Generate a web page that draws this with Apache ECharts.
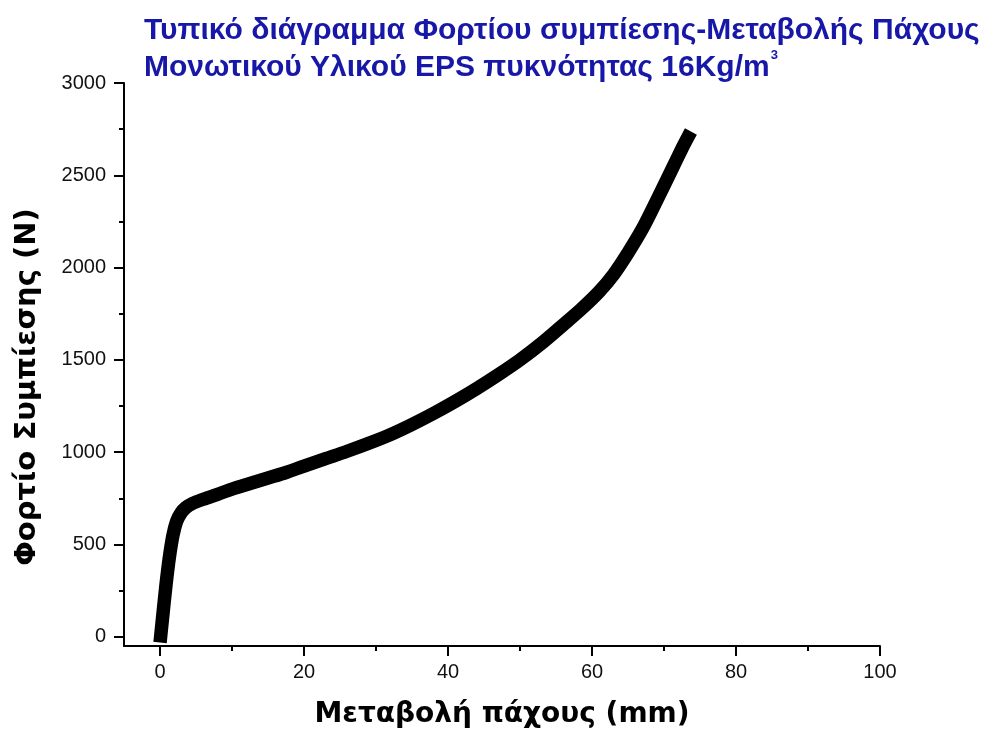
<!DOCTYPE html>
<html>
<head>
<meta charset="utf-8">
<script src="https://cdn.jsdelivr.net/npm/echarts@6/dist/echarts.min.js"></script>
<style>
  html, body { margin: 0; padding: 0; background: #fff; }
  #chart { width: 994px; height: 738px; }
</style>
</head>
<body>
<div id="chart"></div>
<script>
// Compression test: thickness change (mm) vs compressive load (N), EPS 16 kg/m3
const deformation = [0.1, 0.35, 0.8, 1.3, 1.8, 2.3, 2.9, 3.6, 4.5, 6, 8, 10, 12.5, 15, 17.5, 20, 23, 26, 29, 32, 35, 38, 41, 44, 47, 50, 53, 56, 58.5, 61, 63, 65, 67, 69, 71, 72.5, 73.3];
const load = [5, 100, 270, 430, 550, 625, 670, 700, 722, 745, 772, 800, 830, 860, 890, 925, 965, 1005, 1048, 1095, 1150, 1210, 1275, 1345, 1420, 1500, 1590, 1690, 1775, 1870, 1963, 2080, 2210, 2365, 2525, 2645, 2705];

const xMajorTicks = [0, 20, 40, 60, 80, 100];
const xMinorTicks = [10, 30, 50, 70, 90];
const yMajorTicks = [0, 500, 1000, 1500, 2000, 2500, 3000];
const yMinorTicks = [250, 750, 1250, 1750, 2250, 2750];

const titleLine1 = 'Τυπικό διάγραμμα Φορτίου συμπίεσης-Μεταβολής Πάχους';
const titleLine2 = 'Μονωτικού Υλικού EPS πυκνότητας 16Kg/m';
const xName = 'Μεταβολή πάχους (mm)';
const yName = 'Φορτίο Συμπίεσης (N)';

const points = deformation.map((d, i) => [d, load[i]]);

const chart = echarts.init(document.getElementById('chart'), null, { renderer: 'canvas' });

const axisColor = '#000';
const tickFont = { fontFamily: '"Liberation Sans", Arial, sans-serif', fontSize: 20, color: '#111' };
const titleBlue = '#1717a8';
const nameFont = '"DejaVu Sans", sans-serif';

chart.setOption({
  backgroundColor: '#fff',
  animation: false,
  title: {
    left: 139,
    top: 7,
    text: titleLine1 + '\n' + titleLine2 + '{sup|3}',
    textStyle: {
      color: titleBlue,
      fontFamily: '"Liberation Sans", Arial, sans-serif',
      fontWeight: 'bold',
      fontSize: 30,
      lineHeight: 37,
      rich: {
        sup: {
          color: titleBlue,
          fontFamily: '"Liberation Sans", Arial, sans-serif',
          fontSize: 13,
          lineHeight: 37,
          verticalAlign: 'top',
          padding: [0, 0, 16, 1]
        }
      }
    }
  },
  grid: { left: 124, right: 114, top: 83, bottom: 92 },
  xAxis: [
    {
      type: 'value',
      min: -5,
      max: 100,
      name: xName,
      nameLocation: 'middle',
      nameGap: 55,
      nameTextStyle: { fontFamily: nameFont, fontWeight: 'bold', fontSize: 28, color: '#000' },
      axisLine: { show: true, onZero: false, lineStyle: { color: axisColor, width: 2 } },
      axisTick: { show: true, customValues: xMajorTicks, length: 10, lineStyle: { color: axisColor, width: 2 } },
      axisLabel: Object.assign({ customValues: xMajorTicks, margin: 16 }, tickFont),
      splitLine: { show: false }
    },
    {
      type: 'value',
      min: -5,
      max: 100,
      position: 'bottom',
      axisLine: { show: false, onZero: false },
      axisTick: { show: true, customValues: xMinorTicks, length: 5, lineStyle: { color: axisColor, width: 2 } },
      axisLabel: { show: false },
      splitLine: { show: false }
    }
  ],
  yAxis: [
    {
      type: 'value',
      min: -50,
      max: 3000,
      axisLine: { show: true, onZero: false, lineStyle: { color: axisColor, width: 2 } },
      axisTick: { show: true, customValues: yMajorTicks, length: 10, lineStyle: { color: axisColor, width: 2 } },
      axisLabel: Object.assign({ customValues: yMajorTicks, margin: 18, formatter: v => String(v) }, tickFont),
      splitLine: { show: false }
    },
    {
      type: 'value',
      min: -50,
      max: 3000,
      position: 'left',
      axisLine: { show: false, onZero: false },
      axisTick: { show: true, customValues: yMinorTicks, length: 5, lineStyle: { color: axisColor, width: 2 } },
      axisLabel: { show: false },
      splitLine: { show: false }
    }
  ],
  graphic: [
    {
      type: 'text',
      x: 27,
      y: 387,
      rotation: Math.PI / 2,
      style: {
        text: yName,
        fill: '#000',
        font: 'bold 29px ' + nameFont,
        align: 'center',
        verticalAlign: 'middle'
      }
    }
  ],
  series: [
    {
      type: 'line',
      xAxisIndex: 0,
      yAxisIndex: 0,
      data: points,
      smooth: 0.3,
      showSymbol: false,
      lineStyle: { color: '#000', width: 13.5, cap: 'square', join: 'round' }
    }
  ]
});
</script>
</body>
</html>
